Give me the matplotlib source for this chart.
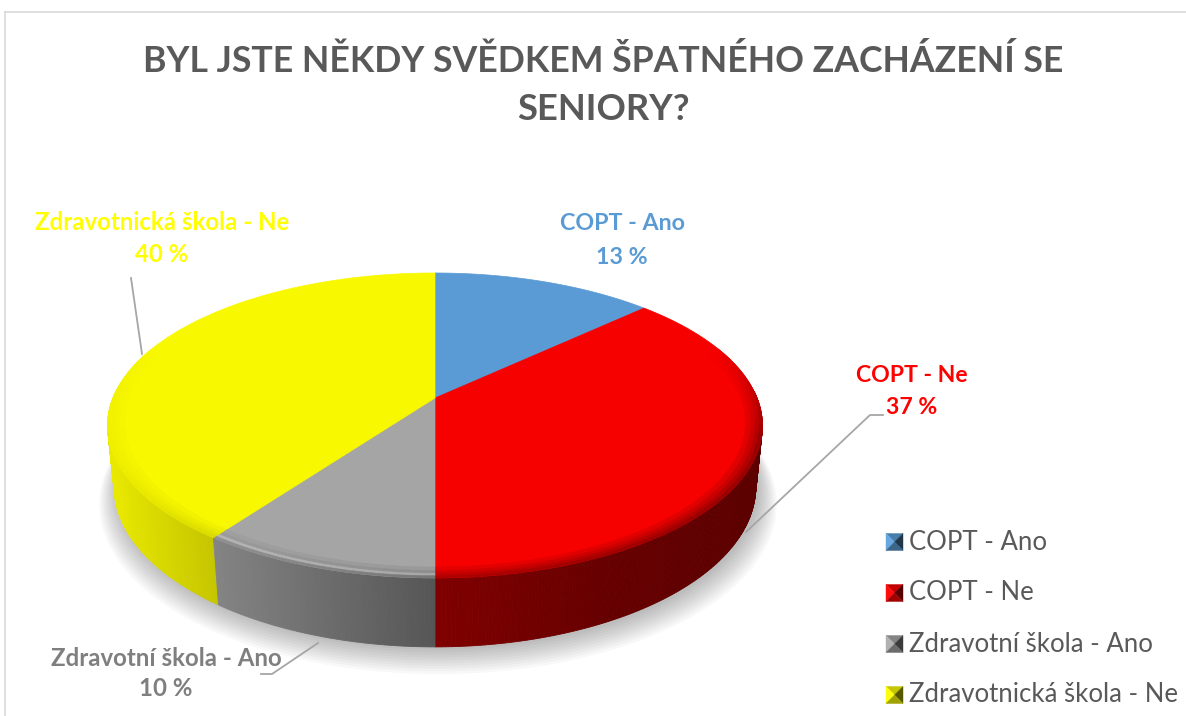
import numpy as np
import matplotlib
matplotlib.use("Agg")
import matplotlib.pyplot as plt
from matplotlib.patches import Polygon
from matplotlib.colors import to_rgb

# ---------------- data ----------------
categories = ["COPT - Ano", "COPT - Ne", "Zdravotní škola - Ano", "Zdravotnická škola - Ne"]
values = [13, 37, 10, 40]
pct_labels = ["13 %", "37 %", "10 %", "40 %"]
colors = ["#5b9bd5", "#f60000", "#a5a5a5", "#f8f800"]
label_colors = ["#5b9bd5", "#ff0000", "#7f7f7f", "#ffff00"]
title_lines = ["BYL JSTE NĚKDY SVĚDKEM ŠPATNÉHO ZACHÁZENÍ SE", "SENIORY?"]

FONT = ["Lato", "DejaVu Sans"]

W, H = 1186, 716
fig = plt.figure(figsize=(W / 100, H / 100), dpi=100)
ax = fig.add_axes([0, 0, 1, 1])
ax.set_xlim(0, W)
ax.set_ylim(H, 0)
ax.axis("off")

# ---------------- perspective projection of a 3D disc ----------------
CX, CY = 435.0, 398.0
K = 1591.0
D = 4.94
SA = 0.458
CA = np.sqrt(1 - SA ** 2)
HGT = 0.215


def proj(theta_deg, r=1.0, z=0.0):
    t = np.radians(theta_deg)
    X = r * np.sin(t)
    Y = r * np.cos(t)
    depth = D + Y * CA - z * SA
    sx = CX + K * X / depth
    sy = CY - K * (Y * SA + z * CA) / depth
    return sx, sy


def side_factor(x):
    return np.interp(x, [107, 215, 435, 600, 762], [0.95, 0.80, 0.52, 0.42, 0.37])


fracs = np.array(values, dtype=float) / np.sum(values)
bounds = np.concatenate([[0], np.cumsum(fracs) * 360])

# soft shadow under the pie
ths = np.linspace(0, 360, 361)
for i in range(10):
    pts = [proj(t, 1.0 + 0.006 * i, -HGT) for t in ths]
    pts = [(x + 3, y + 3 + 1.3 * i) for x, y in pts]
    ax.add_patch(Polygon(pts, closed=True, facecolor="#000000", alpha=0.028,
                         edgecolor="none", zorder=1))

# side quads
quads = []
for i in range(len(values)):
    a0, a1 = bounds[i], bounds[i + 1]
    n = max(2, int((a1 - a0) / 0.5))
    tt = np.linspace(a0, a1, n + 1)
    base = np.array(to_rgb(colors[i]))
    for j in range(n):
        tm = 0.5 * (tt[j] + tt[j + 1])
        if np.cos(np.radians(tm)) > 0.05:
            continue
        p1 = proj(tt[j]); p2 = proj(tt[j + 1])
        p3 = proj(tt[j + 1], 1, -HGT); p4 = proj(tt[j], 1, -HGT)
        xm = 0.25 * (p1[0] + p2[0] + p3[0] + p4[0])
        c = np.clip(base * side_factor(xm), 0, 1)
        depth = np.cos(np.radians(tm))
        quads.append((depth, [p1, p2, p3, p4], c))
quads.sort(key=lambda q: -q[0])
for dpt, pts, c in quads:
    ax.add_patch(Polygon(pts, closed=True, facecolor=c, edgecolor=c, lw=0.6, zorder=2))

# top faces
for i in range(len(values)):
    a0, a1 = bounds[i], bounds[i + 1]
    tt = np.linspace(a0, a1, 200)
    pts = [(CX, CY)] + [proj(t) for t in tt]
    ax.add_patch(Polygon(pts, closed=True, facecolor=colors[i], edgecolor=colors[i],
                         lw=0.5, zorder=3))

# bevel rim on the front part of the top faces
rings = [0.95, 0.966, 0.979, 0.99, 1.0]
for i in range(len(values)):
    a0, a1 = bounds[i], bounds[i + 1]
    n = max(2, int((a1 - a0) / 0.5))
    tt = np.linspace(a0, a1, n + 1)
    base = np.array(to_rgb(colors[i]))
    for j in range(n):
        tm = 0.5 * (tt[j] + tt[j + 1])
        cy_ = np.cos(np.radians(tm))
        w = np.clip((0.35 - cy_) / 0.6, 0, 1)  # strength toward the front
        if w <= 0:
            continue
        for k in range(len(rings) - 1):
            r0, r1 = rings[k], rings[k + 1]
            p1 = proj(tt[j], r0); p2 = proj(tt[j + 1], r0)
            p3 = proj(tt[j + 1], r1); p4 = proj(tt[j], r1)
            xm = 0.5 * (p1[0] + p2[0])
            dark = base * side_factor(xm)
            m = (k + 1) / (len(rings) - 1) * 0.6 * w
            c = base * (1 - m) + dark * m
            if i == 2 and k == 2:  # soft highlight on grey rim
                c = c * (1 - 0.3 * w) + np.ones(3) * 0.3 * w
            c = np.clip(c, 0, 1)
            ax.add_patch(Polygon([p1, p2, p3, p4], closed=True, facecolor=c,
                                 edgecolor=c, lw=0.4, zorder=4))

# ---------------- helpers for text ----------------
renderer = fig.canvas.get_renderer()


def fit_size(text, target_w, weight):
    t = ax.text(0, 0, text, fontsize=20, family=FONT, fontweight=weight)
    w = t.get_window_extent(renderer).width
    t.remove()
    return 20 * target_w / w


# title
ts = fit_size(title_lines[0], 920, "bold")
ax.text(603, 61, title_lines[0], fontsize=ts, family=FONT, fontweight="bold",
        color="#595959", ha="center", va="center", zorder=10)
ax.text(603, 110, title_lines[1], fontsize=ts * 1.02, family=FONT, fontweight="bold",
        color="#595959", ha="center", va="center", zorder=10)

# data labels (sizes fitted to the reference widths)
label_w = [124, 109, 234, 258]
label_pos = [(622, 224, 257), (912, 375, 408), (166, 659, 689), (162, 222, 255)]
lsizes = [fit_size(categories[i], label_w[i], "bold") for i in range(len(values))]
ls = float(np.mean(lsizes))
for i in range(len(values)):
    x, y1, y2 = label_pos[i]
    s = 0.5 * (ls + lsizes[i])
    ax.text(x, y1, categories[i], fontsize=s, family=FONT, fontweight="bold",
            color=label_colors[i], ha="center", va="center", zorder=10)
    ax.text(x, y2, pct_labels[i], fontsize=s, family=FONT, fontweight="bold",
            color=label_colors[i], ha="center", va="center", zorder=10)

# leader lines
lc = "#a6a6a6"
ax.plot([131, 142], [278, 354], color=lc, lw=1.3, zorder=9)
ax.plot([883, 870, 746], [415, 415, 532], color=lc, lw=1.3, zorder=9)
ax.plot([261, 272, 318], [674, 674, 643], color=lc, lw=1.3, zorder=9)

# legend
gs = 0.5 * (fit_size("COPT - Ano", 134, "normal") + fit_size("Zdravotní škola - Ano", 251, "normal"))
rows = [542, 593, 644, 695]
for i in range(len(values)):
    yc = rows[i]
    x0, x1 = 886, 903
    y0, y1 = yc - 8.5, yc + 8.5
    xm, ym = 0.5 * (x0 + x1), yc
    base = np.array(to_rgb(colors[i]))
    tri = {
        "top": ([(x0, y0), (x1, y0), (xm, ym)], base * 0.8),
        "left": ([(x0, y0), (x0, y1), (xm, ym)], np.clip(base * 1.0 + 0.05, 0, 1)),
        "right": ([(x1, y0), (x1, y1), (xm, ym)], base * 0.35),
        "bottom": ([(x0, y1), (x1, y1), (xm, ym)], base * 0.65),
    }
    for name, (pts, c) in tri.items():
        ax.add_patch(Polygon(pts, closed=True, facecolor=c, edgecolor=c, lw=0.3, zorder=10))
    ax.text(909, yc, categories[i], fontsize=gs, family=FONT, color="#595959",
            ha="left", va="center", zorder=10)

# chart border
ax.plot([5, W + 5], [12, 12], color="#d9d9d9", lw=1.2, zorder=0)
ax.plot([5, 5], [12, H + 5], color="#d9d9d9", lw=1.2, zorder=0)

fig.savefig("out.png", dpi=100)
